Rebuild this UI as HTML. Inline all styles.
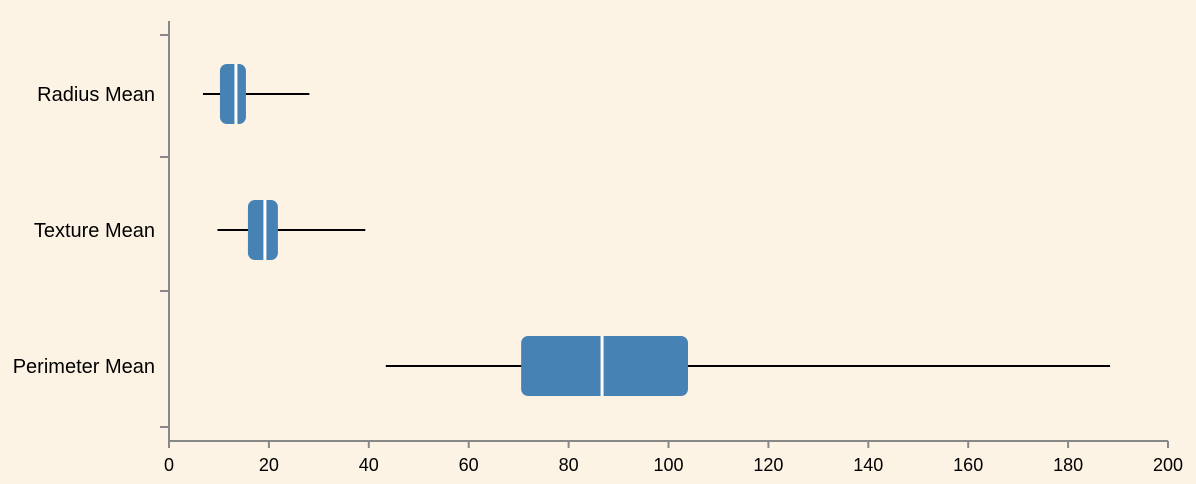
<!DOCTYPE html>
<html><head><meta charset="utf-8"><style>
body{margin:0;background:#fdf3e5;}
svg{display:block;font-family:"Liberation Sans",sans-serif;}
</style></head><body>
<svg id="c" width="1196" height="484" viewBox="0 0 1196 484"></svg>
<script>
const categories=["Radius Mean","Texture Mean","Perimeter Mean"];
const mins=[6.8,9.7,43.4];
const q1s=[10.2,15.8,70.5];
const medians=[13.4,19.2,86.7];
const q3s=[15.4,21.8,103.9];
const maxs=[28.1,39.3,188.4];
const xTicks=[0,20,40,60,80,100,120,140,160,180,200];
const NS="http://www.w3.org/2000/svg";
const svg=document.getElementById('c');
const x0=169,x1=1168,xMax=200;
const xs=v=>x0+(v/xMax)*(x1-x0);
const yc=i=>94+i*136;
function mk(t,a,p){const e=document.createElementNS(NS,t);for(const k in a)e.setAttribute(k,a[k]);(p||svg).appendChild(e);return e;}
const ax=mk('line',{x1:x0,y1:21,x2:x0,y2:441,stroke:'#888','stroke-width':2});


const bx=mk('line',{x1:x0,y1:441,x2:x1,y2:441,stroke:'#888','stroke-width':2});


[35,157,291,427].forEach(y=>{const t=mk('line',{x1:160,y1:y,x2:x0,y2:y,stroke:'#888','stroke-width':2});

});
xTicks.forEach(v=>{const t=mk('line',{x1:xs(v),y1:441,x2:xs(v),y2:448,stroke:'#888','stroke-width':2});


const l=mk('text',{x:xs(v),y:471,'text-anchor':'middle','font-size':18,fill:'#000'});l.textContent=v;

});
categories.forEach((c,i)=>{const y=yc(i);
const l=mk('text',{x:155,y:y+7,'text-anchor':'end','font-size':20,fill:'#000'});l.textContent=c;


const w=mk('line',{x1:xs(mins[i]),y1:y,x2:xs(maxs[i]),y2:y,stroke:'#000','stroke-width':2});


const b=mk('rect',{x:xs(q1s[i]),y:y-30,width:xs(q3s[i])-xs(q1s[i]),height:60,rx:7,fill:'#4682b4'});


const m=mk('line',{x1:xs(medians[i]),y1:y-30,x2:xs(medians[i]),y2:y+30,stroke:'#fff','stroke-width':3});


});
</script>
</body></html>
